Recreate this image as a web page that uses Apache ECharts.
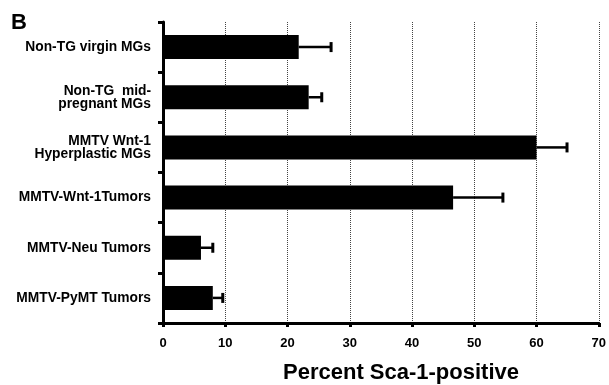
<!DOCTYPE html>
<html>
<head>
<meta charset="utf-8">
<script src="https://cdn.jsdelivr.net/npm/echarts@6/dist/echarts.min.js"></script>
<style>html,body{margin:0;padding:0;background:#fff}#c{width:609px;height:385px}</style>
</head>
<body>
<div id="c"></div>
<script>
const categories = [
  "Non-TG virgin MGs",
  "Non-TG  mid-\npregnant MGs",
  "MMTV Wnt-1\nHyperplastic MGs",
  "MMTV-Wnt-1Tumors",
  "MMTV-Neu Tumors",
  "MMTV-PyMT Tumors"
];
const values = [21.8, 23.4, 60.0, 46.6, 6.1, 8.0];
const errorUpper = [27.0, 25.5, 64.9, 54.6, 8.0, 9.6];
const xTicks = [0, 10, 20, 30, 40, 50, 60, 70];

const chart = echarts.init(document.getElementById('c'), null, {renderer: 'canvas'});
const font = '"Liberation Sans", Arial, sans-serif';
chart.setOption({
  animation: false,
  backgroundColor: '#fff',
  grid: {left: 163, right: 9, top: 22, bottom: 62, containLabel: false},
  xAxis: {
    type: 'value', min: xTicks[0], max: xTicks[xTicks.length - 1], interval: 10,
    axisLine: {show: true, lineStyle: {color: '#000', width: 3}},
    axisTick: {show: true, length: 4, lineStyle: {color: '#000', width: 3}},
    axisLabel: {color: '#000', fontFamily: font, fontWeight: 'bold', fontSize: 13, margin: 14},
    splitLine: {show: true, lineStyle: {color: '#444', type: 'dotted', width: 1}}
  },
  yAxis: {
    type: 'category', data: categories, inverse: true,
    axisLine: {show: true, lineStyle: {color: '#000', width: 3}},
    axisTick: {show: true, length: 5, interval: 0, lineStyle: {color: '#000', width: 3}},
    axisLabel: {color: '#000', fontFamily: font, fontWeight: 'bold', fontSize: 13.8, lineHeight: 13, margin: 12, align: 'right', interval: 0},
    splitLine: {show: false}
  },
  graphic: [
    {type: 'text', left: 11, top: 12, style: {text: 'B', font: 'bold 22px ' + font, fill: '#000'}},
    {type: 'text', left: 283, top: 362, style: {text: 'Percent Sca-1-positive', font: 'bold 22px ' + font, fill: '#000'}}
  ],
  series: [
    {
      type: 'bar', data: values, barWidth: '48%',
      itemStyle: {color: '#000'}, z: 2
    },
    {
      type: 'custom', z: 3,
      data: values.map((v, i) => [i, v, errorUpper[i]]),
      renderItem: function (params, api) {
        const i = api.value(0);
        const start = api.coord([api.value(1), i]);
        const end = api.coord([api.value(2), i]);
        const cap = 5;
        return {
          type: 'group',
          children: [
            {type: 'line', shape: {x1: start[0], y1: start[1], x2: end[0], y2: end[1]}, style: {stroke: '#000', lineWidth: 2.5}},
            {type: 'line', shape: {x1: end[0], y1: end[1] - cap, x2: end[0], y2: end[1] + cap}, style: {stroke: '#000', lineWidth: 3}}
          ]
        };
      }
    }
  ]
});
</script>
</body>
</html>
